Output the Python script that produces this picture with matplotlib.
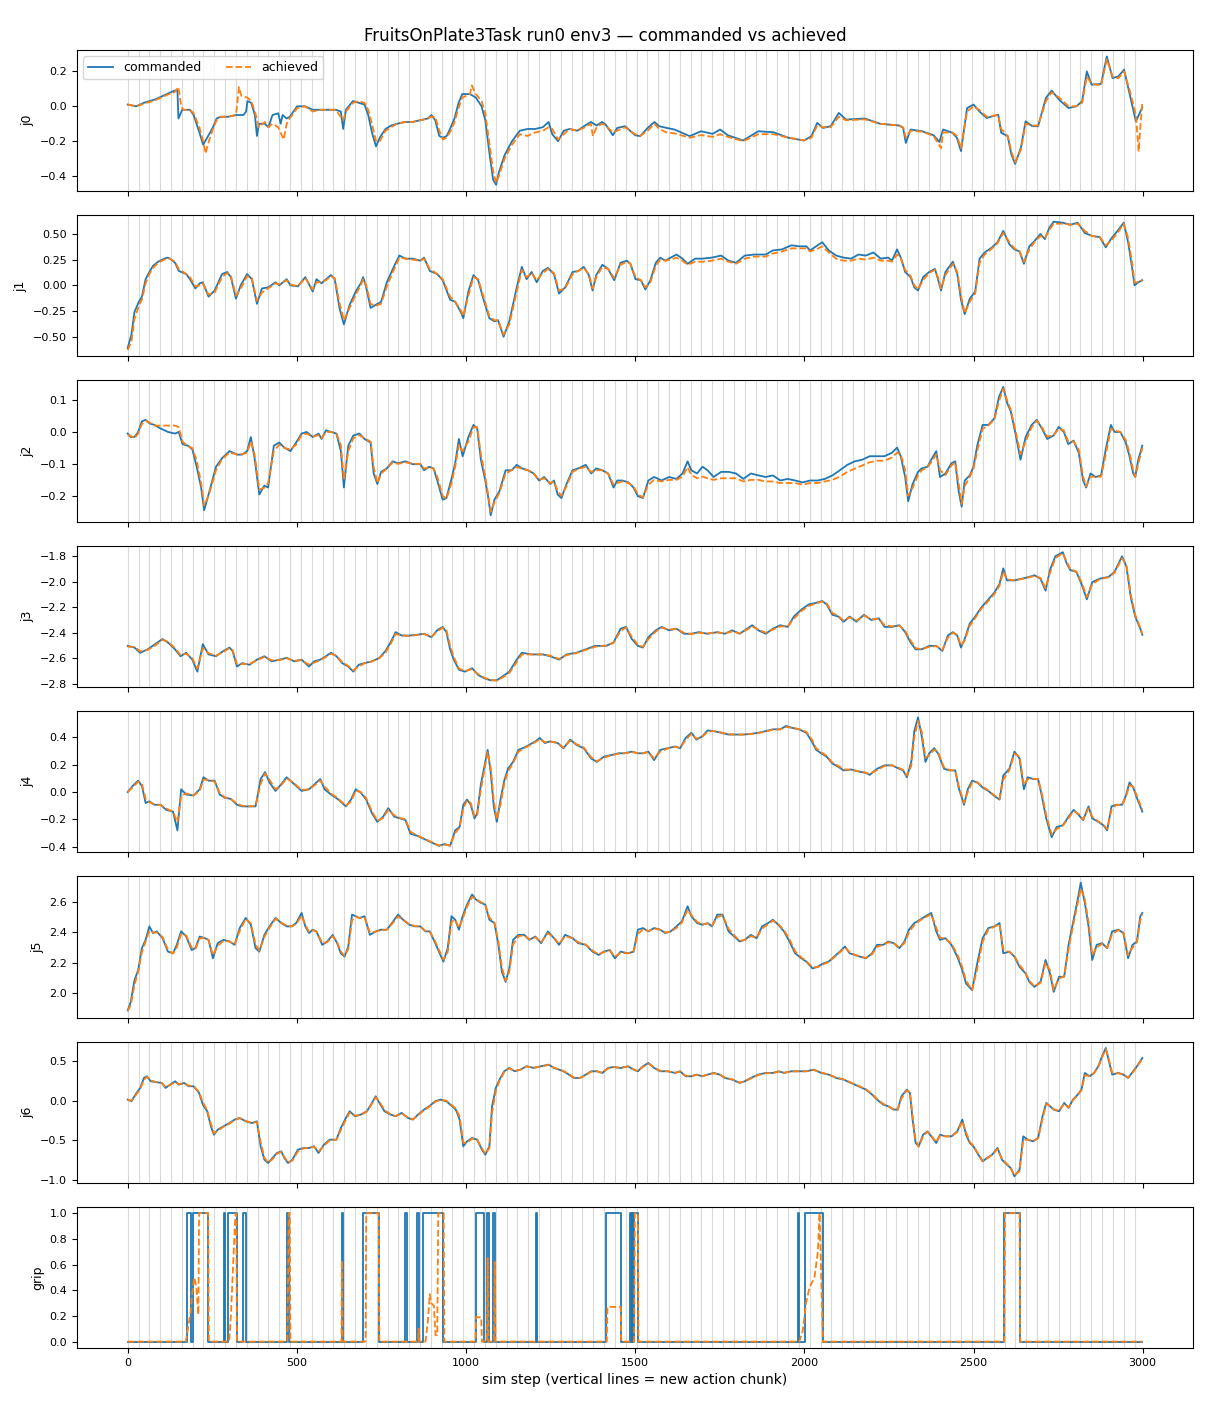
import matplotlib
matplotlib.use("Agg")
import matplotlib.pyplot as plt

TITLE = "FruitsOnPlate3Task run0 env3 \u2014 commanded vs achieved"
XLABEL = "sim step (vertical lines = new action chunk)"
JOINT_NAMES = ["j0", "j1", "j2", "j3", "j4", "j5", "j6"]

chunk_starts = [0, 32, 64, 96, 128, 160, 192, 224, 256, 288, 320, 352, 384, 416, 448, 480,
                512, 544, 576, 608, 640, 672, 704, 736, 768, 800, 832, 864, 896, 928, 960, 992,
                1024, 1056, 1088, 1120, 1152, 1184, 1216, 1248, 1280, 1312, 1344, 1376, 1408,
                1440, 1472, 1504, 1536, 1568, 1600, 1632, 1664, 1696, 1728, 1760, 1792, 1824,
                1856, 1888, 1920, 1952, 1984, 2016, 2048, 2080, 2112, 2144, 2176, 2208, 2240,
                2272, 2304, 2336, 2368, 2400, 2432, 2464, 2496, 2528, 2560, 2592, 2624, 2656,
                2688, 2720, 2752, 2784, 2816, 2848, 2880, 2912, 2944, 2976]

# (sim step, value) samples
j0_cmd = [(0,0.01),(25,0.0),(48,0.02),(82,0.04),(116,0.07),(138,0.09),(147,0.09),(150,-0.07),(161,-0.02),
          (184,-0.02),(195,-0.05),(212,-0.15),(223,-0.22),(235,-0.18),(252,-0.12),(263,-0.07),(274,-0.06),
          (297,-0.06),(320,-0.05),(342,-0.05),(350,-0.03),(354,0.03),(365,0.02),(376,-0.05),(382,-0.17),
          (388,-0.1),(405,-0.1),(416,-0.12),(428,-0.05),(445,-0.04),(452,-0.1),(458,-0.05),(470,-0.07),
          (479,-0.06),(490,-0.03),(501,0.0),(524,0.0),(547,-0.02),(569,-0.02),(592,-0.02),(615,-0.02),
          (630,-0.03),(637,-0.13),(645,-0.02),(666,0.03),(683,0.02),(700,0.01),(711,-0.05),(722,-0.15),
          (734,-0.23),(745,-0.18),(762,-0.13),(779,-0.11),(796,-0.1),(819,-0.09),(841,-0.09),(864,-0.08),
          (887,-0.07),(898,-0.05),(909,-0.08),(921,-0.17),(932,-0.18),(943,-0.17),(955,-0.12),(966,-0.07),
          (978,0.02),(989,0.07),(1012,0.07),(1029,0.05),(1046,0.0),(1057,-0.08),(1068,-0.25),(1080,-0.42),
          (1089,-0.45),(1097,-0.38),(1114,-0.28),(1136,-0.2),(1159,-0.14),(1182,-0.13),(1204,-0.13),
          (1227,-0.12),(1244,-0.09),(1255,-0.16),(1272,-0.2),(1289,-0.14),(1306,-0.13),(1329,-0.14),
          (1352,-0.11),(1369,-0.09),(1386,-0.11),(1402,-0.09),(1413,-0.105),(1434,-0.166),(1447,-0.124),
          (1470,-0.114),(1500,-0.166),(1515,-0.171),(1537,-0.124),(1557,-0.09),(1571,-0.114),(1593,-0.124),
          (1616,-0.133),(1661,-0.171),(1695,-0.143),(1729,-0.158),(1751,-0.133),(1774,-0.166),(1819,-0.196),
          (1864,-0.143),(1909,-0.149),(1954,-0.181),(1999,-0.196),(2021,-0.171),(2038,-0.095),(2055,-0.124),
          (2078,-0.114),(2102,-0.038),(2123,-0.076),(2179,-0.07),(2224,-0.1),(2280,-0.11),(2292,-0.124),
          (2300,-0.21),(2314,-0.133),(2348,-0.143),(2382,-0.166),(2399,-0.204),(2410,-0.133),(2438,-0.152),
          (2451,-0.181),(2463,-0.257),(2481,-0.01),(2500,0.01),(2517,-0.029),(2539,-0.067),(2573,-0.048),
          (2582,-0.152),(2601,-0.171),(2612,-0.276),(2623,-0.33),(2640,-0.238),(2654,-0.086),(2674,-0.114),
          (2691,-0.114),(2714,0.048),(2731,0.09),(2753,0.038),(2781,-0.01),(2804,0.0),(2821,0.029),
          (2835,0.2),(2849,0.124),(2877,0.128),(2894,0.286),(2911,0.162),(2928,0.171),(2945,0.21),
          (2962,0.067),(2980,-0.086),(2999,-0.006)]
j0_ach = [(0,0.01),(25,0.0),(48,0.015),(82,0.035),(116,0.065),(138,0.08),(150,0.11),(158,0.0),(165,-0.02),
          (184,-0.02),(195,-0.04),(212,-0.12),(223,-0.2),(230,-0.27),(240,-0.2),(252,-0.13),(263,-0.08),
          (274,-0.06),(297,-0.06),(320,-0.05),(329,0.11),(336,0.06),(354,0.05),(365,0.03),(376,-0.03),
          (388,-0.12),(405,-0.09),(416,-0.12),(428,-0.1),(445,-0.12),(461,-0.19),(470,-0.1),(479,-0.07),
          (490,-0.04),(501,-0.01),(524,0.0),(547,-0.03),(569,-0.02),(592,-0.02),(615,-0.02),(637,-0.08),
          (645,-0.03),(666,0.02),(683,0.03),(700,0.02),(711,-0.02),(722,-0.1),(734,-0.2),(745,-0.2),
          (762,-0.14),(779,-0.12),(796,-0.1),(819,-0.09),(841,-0.09),(864,-0.08),(887,-0.07),(898,-0.06),
          (909,-0.06),(921,-0.14),(932,-0.19),(943,-0.18),(955,-0.14),(966,-0.09),(978,-0.01),(989,0.05),
          (1012,0.07),(1017,0.12),(1029,0.07),(1046,0.03),(1057,-0.04),(1068,-0.2),(1080,-0.37),(1089,-0.44),
          (1097,-0.4),(1114,-0.3),(1136,-0.22),(1159,-0.16),(1182,-0.17),(1204,-0.15),(1227,-0.14),
          (1244,-0.12),(1255,-0.13),(1272,-0.19),(1289,-0.16),(1306,-0.13),(1329,-0.14),(1352,-0.12),
          (1369,-0.1),(1375,-0.17),(1386,-0.12),(1402,-0.1),(1413,-0.11),(1434,-0.15),(1447,-0.14),
          (1470,-0.12),(1500,-0.16),(1515,-0.17),(1537,-0.14),(1557,-0.1),(1571,-0.13),(1593,-0.15),
          (1616,-0.155),(1661,-0.18),(1695,-0.165),(1729,-0.175),(1751,-0.16),(1774,-0.175),(1819,-0.2),
          (1864,-0.16),(1909,-0.16),(1954,-0.18),(1999,-0.195),(2021,-0.18),(2038,-0.11),(2055,-0.12),
          (2078,-0.12),(2102,-0.06),(2123,-0.08),(2179,-0.075),(2224,-0.1),(2280,-0.11),(2292,-0.12),
          (2300,-0.18),(2314,-0.14),(2348,-0.145),(2382,-0.17),(2404,-0.24),(2410,-0.15),(2438,-0.15),
          (2451,-0.17),(2463,-0.24),(2481,-0.03),(2500,0.0),(2517,-0.02),(2539,-0.06),(2573,-0.05),
          (2582,-0.13),(2601,-0.17),(2612,-0.26),(2623,-0.32),(2640,-0.25),(2654,-0.1),(2674,-0.11),
          (2691,-0.11),(2714,0.03),(2731,0.08),(2753,0.05),(2781,0.0),(2804,0.0),(2821,0.02),(2835,0.17),
          (2849,0.13),(2877,0.12),(2894,0.27),(2911,0.17),(2928,0.16),(2945,0.2),(2962,0.09),(2980,-0.05),
          (2988,-0.26),(2999,0.03)]

j1_cmd = [(0,-0.61),(11,-0.48),(20,-0.26),(33,-0.16),(42,-0.11),(53,0.06),(64,0.13),(75,0.19),(90,0.23),
          (108,0.26),(118,0.27),(125,0.26),(140,0.22),(151,0.14),(173,0.11),(184,0.06),(200,-0.03),
          (213,0.02),(222,0.03),(239,-0.11),(257,-0.05),(279,0.11),(294,0.13),(305,0.08),(320,-0.13),
          (334,0.0),(353,0.11),(367,0.06),(382,-0.18),(397,-0.03),(415,-0.02),(437,0.03),(448,0.0),
          (470,0.06),(481,0.0),(503,-0.01),(525,0.08),(547,-0.06),(558,0.06),(573,0.02),(586,0.06),
          (601,0.10),(612,0.06),(626,-0.22),(639,-0.38),(656,-0.19),(674,-0.06),(689,0.02),(696,0.08),
          (705,-0.02),(718,-0.22),(733,-0.19),(749,-0.16),(766,0.03),(788,0.19),(803,0.29),(821,0.26),
          (843,0.26),(865,0.24),(876,0.27),(893,0.14),(915,0.11),(931,0.05),(953,-0.14),(968,-0.16),
          (986,-0.27),(992,-0.32),(1007,-0.06),(1022,0.10),(1036,0.05),(1051,-0.13),(1069,-0.32),
          (1084,-0.35),(1095,-0.34),(1111,-0.50),(1128,-0.35),(1150,-0.02),(1165,0.18),(1179,0.06),
          (1194,0.13),(1209,0.03),(1227,0.14),(1242,0.17),(1260,0.11),(1275,-0.08),(1293,-0.02),
          (1315,0.13),(1332,0.14),(1348,0.18),(1363,0.10),(1374,-0.05),(1385,0.10),(1403,0.20),
          (1420,0.16),(1438,0.05),(1457,0.22),(1475,0.24),(1486,0.21),(1501,0.06),(1517,0.05),
          (1530,-0.04),(1545,0.05),(1561,0.22),(1574,0.27),(1589,0.24),(1605,0.27),(1622,0.30),
          (1640,0.26),(1655,0.21),(1677,0.26),(1699,0.26),(1727,0.27),(1754,0.29),(1776,0.24),
          (1798,0.22),(1824,0.29),(1853,0.30),(1886,0.30),(1907,0.34),(1934,0.35),(1962,0.39),
          (1984,0.38),(2006,0.38),(2017,0.34),(2035,0.38),(2053,0.42),(2072,0.34),(2094,0.29),
          (2116,0.27),(2138,0.26),(2160,0.30),(2182,0.29),(2204,0.32),(2226,0.26),(2248,0.27),
          (2259,0.24),(2274,0.35),(2285,0.27),(2298,0.13),(2314,0.08),(2325,-0.02),(2336,-0.05),
          (2351,0.08),(2369,0.13),(2386,0.16),(2395,0.06),(2404,-0.05),(2417,0.13),(2439,0.23),
          (2452,0.11),(2463,-0.14),(2474,-0.28),(2489,-0.13),(2505,-0.06),(2518,0.26),(2533,0.32),
          (2555,0.37),(2571,0.42),(2588,0.53),(2606,0.40),(2621,0.35),(2636,0.33),(2649,0.21),
          (2665,0.38),(2680,0.43),(2698,0.50),(2711,0.45),(2724,0.56),(2737,0.62),(2764,0.61),
          (2786,0.59),(2808,0.61),(2829,0.51),(2851,0.48),(2873,0.47),(2891,0.37),(2906,0.45),
          (2928,0.54),(2944,0.61),(2957,0.42),(2968,0.19),(2976,0.0),(2987,0.03),(2999,0.05)]
j1_ach = [(0,-0.63),(11,-0.55),(20,-0.33),(33,-0.2),(42,-0.14),(53,0.02),(64,0.11),(75,0.17),(90,0.22),
          (108,0.25),(118,0.26),(125,0.26),(140,0.23),(151,0.16),(173,0.11),(184,0.08),(200,-0.01),
          (213,0.0),(222,0.02),(239,-0.09),(257,-0.07),(279,0.08),(294,0.12),(305,0.09),(320,-0.1),
          (334,-0.03),(353,0.09),(367,0.07),(382,-0.15),(397,-0.07),(415,-0.03),(437,0.02),(448,0.01),
          (470,0.05),(481,0.01),(503,-0.01),(525,0.07),(547,-0.04),(558,0.03),(573,0.03),(586,0.05),
          (601,0.09),(612,0.07),(626,-0.17),(639,-0.34),(656,-0.22),(674,-0.09),(689,0.0),(696,0.06),
          (705,0.0),(718,-0.18),(733,-0.2),(749,-0.18),(766,-0.01),(788,0.16),(803,0.27),(821,0.26),
          (843,0.25),(865,0.24),(876,0.26),(893,0.16),(915,0.11),(931,0.06),(953,-0.11),(968,-0.16),
          (986,-0.25),(992,-0.3),(1007,-0.1),(1022,0.08),(1036,0.06),(1051,-0.1),(1069,-0.3),
          (1084,-0.34),(1095,-0.34),(1111,-0.48),(1128,-0.38),(1150,-0.06),(1165,0.15),(1179,0.08),
          (1194,0.12),(1209,0.05),(1227,0.12),(1242,0.16),(1260,0.12),(1275,-0.05),(1293,-0.03),
          (1315,0.11),(1332,0.14),(1348,0.17),(1363,0.11),(1374,-0.03),(1385,0.08),(1403,0.18),
          (1420,0.16),(1438,0.07),(1457,0.2),(1475,0.23),(1486,0.21),(1501,0.08),(1517,0.05),
          (1530,-0.02),(1545,0.03),(1561,0.19),(1574,0.25),(1589,0.24),(1605,0.25),(1622,0.27),
          (1640,0.24),(1655,0.2),(1677,0.23),(1699,0.23),(1727,0.24),(1754,0.26),(1776,0.23),
          (1798,0.21),(1824,0.26),(1853,0.28),(1886,0.28),(1907,0.31),(1934,0.33),(1962,0.36),
          (1984,0.36),(2006,0.36),(2017,0.33),(2035,0.35),(2053,0.38),(2072,0.32),(2094,0.26),
          (2116,0.24),(2138,0.24),(2160,0.26),(2182,0.25),(2204,0.27),(2226,0.24),(2248,0.24),
          (2259,0.23),(2274,0.3),(2285,0.27),(2298,0.15),(2314,0.09),(2325,0.0),(2336,-0.04),
          (2351,0.05),(2369,0.12),(2386,0.15),(2395,0.08),(2404,-0.03),(2417,0.1),(2439,0.21),
          (2452,0.13),(2463,-0.1),(2474,-0.27),(2489,-0.16),(2505,-0.08),(2518,0.22),(2533,0.3),
          (2555,0.36),(2571,0.41),(2588,0.51),(2606,0.42),(2621,0.36),(2636,0.33),(2649,0.23),
          (2665,0.35),(2680,0.42),(2698,0.48),(2711,0.46),(2724,0.54),(2737,0.6),(2764,0.6),
          (2786,0.59),(2808,0.6),(2829,0.53),(2851,0.48),(2873,0.47),(2891,0.39),(2906,0.43),
          (2928,0.52),(2944,0.6),(2957,0.46),(2968,0.24),(2976,0.03),(2987,0.03),(2999,0.05)]

j2_cmd = [(0,-0.005),(9,-0.016),(20,-0.016),(31,0.0),(42,0.033),(53,0.038),(64,0.027),(79,0.022),
          (97,0.011),(119,0.0),(140,-0.005),(151,0.0),(162,-0.038),(178,-0.043),(191,-0.054),(204,-0.109),
          (217,-0.174),(226,-0.245),(239,-0.196),(261,-0.109),(279,-0.082),(301,-0.06),(323,-0.071),
          (338,-0.071),(353,-0.06),(364,-0.016),(375,-0.082),(389,-0.196),(404,-0.168),(415,-0.174),
          (432,-0.043),(448,-0.033),(463,-0.049),(481,-0.06),(498,-0.033),(514,-0.005),(529,0.0),
          (547,-0.016),(564,-0.005),(573,-0.022),(586,0.005),(601,0.0),(617,-0.005),(630,-0.06),
          (639,-0.174),(652,-0.043),(667,-0.011),(685,-0.005),(700,-0.022),(718,-0.033),(727,-0.13),
          (738,-0.163),(749,-0.125),(766,-0.114),(783,-0.092),(799,-0.098),(821,-0.092),(843,-0.101),
          (865,-0.101),(876,-0.12),(891,-0.109),(904,-0.114),(915,-0.152),(931,-0.212),(942,-0.207),
          (957,-0.147),(968,-0.098),(979,-0.022),(990,-0.076),(1007,-0.016),(1022,0.022),(1033,0.011),
          (1044,-0.087),(1057,-0.152),(1066,-0.207),(1073,-0.261),(1084,-0.212),(1099,-0.185),
          (1117,-0.12),(1135,-0.12),(1150,-0.103),(1165,-0.114),(1183,-0.12),(1200,-0.13),(1216,-0.152),
          (1231,-0.141),(1249,-0.163),(1260,-0.152),(1271,-0.196),(1282,-0.207),(1297,-0.163),
          (1315,-0.12),(1332,-0.114),(1354,-0.103),(1370,-0.13),(1385,-0.114),(1403,-0.12),(1420,-0.13),
          (1436,-0.174),(1447,-0.152),(1462,-0.152),(1480,-0.158),(1495,-0.174),(1508,-0.201),
          (1523,-0.207),(1539,-0.152),(1556,-0.141),(1578,-0.152),(1600,-0.141),(1622,-0.147),
          (1640,-0.13),(1655,-0.092),(1666,-0.12),(1683,-0.13),(1699,-0.109),(1714,-0.12),(1732,-0.141),
          (1754,-0.125),(1776,-0.125),(1798,-0.13),(1820,-0.147),(1842,-0.13),(1864,-0.136),
          (1886,-0.141),(1907,-0.136),(1929,-0.152),(1951,-0.147),(1973,-0.152),(1995,-0.158),
          (2017,-0.152),(2039,-0.152),(2061,-0.147),(2083,-0.136),(2105,-0.12),(2127,-0.103),
          (2149,-0.092),(2171,-0.087),(2193,-0.076),(2215,-0.076),(2237,-0.076),(2259,-0.065),
          (2274,-0.049),(2285,-0.076),(2298,-0.141),(2307,-0.217),(2320,-0.163),(2336,-0.125),
          (2347,-0.114),(2364,-0.109),(2375,-0.087),(2390,-0.06),(2401,-0.141),(2417,-0.13),
          (2435,-0.098),(2446,-0.092),(2456,-0.185),(2465,-0.234),(2474,-0.152),(2489,-0.136),
          (2500,-0.109),(2511,-0.043),(2527,0.022),(2544,0.022),(2562,0.043),(2575,0.109),(2588,0.141),
          (2599,0.092),(2610,0.065),(2623,0.0),(2639,-0.087),(2654,-0.016),(2672,0.022),(2687,0.038),
          (2702,0.011),(2718,-0.022),(2737,-0.011),(2752,0.016),(2767,0.0),(2780,-0.038),(2796,-0.027),
          (2811,-0.065),(2824,-0.152),(2833,-0.174),(2846,-0.13),(2861,-0.141),(2877,-0.136),
          (2891,-0.054),(2906,0.022),(2917,0.0),(2934,0.0),(2950,-0.033),(2961,-0.076),(2972,-0.13),
          (2978,-0.141),(2987,-0.087),(2999,-0.043)]
j2_ach = [(0,-0.01),(9,-0.012),(20,-0.02),(31,-0.005),(42,0.025),(53,0.035),(64,0.03),(79,0.02),
          (97,0.02),(119,0.02),(140,0.02),(151,0.015),(162,-0.03),(178,-0.045),(191,-0.05),(204,-0.09),
          (217,-0.16),(226,-0.23),(239,-0.2),(261,-0.12),(279,-0.085),(301,-0.065),(323,-0.07),
          (338,-0.07),(353,-0.065),(364,-0.03),(375,-0.07),(389,-0.18),(404,-0.175),(415,-0.16),
          (432,-0.06),(448,-0.04),(463,-0.05),(481,-0.055),(498,-0.04),(514,-0.01),(529,-0.005),
          (547,-0.015),(564,-0.01),(573,-0.02),(586,0.0),(601,0.0),(617,-0.005),(630,-0.04),
          (639,-0.15),(652,-0.06),(667,-0.02),(685,-0.01),(700,-0.02),(718,-0.03),(727,-0.11),
          (738,-0.16),(749,-0.13),(766,-0.115),(783,-0.095),(799,-0.1),(821,-0.095),(843,-0.1),
          (865,-0.1),(876,-0.115),(891,-0.11),(904,-0.115),(915,-0.14),(931,-0.2),(942,-0.21),
          (957,-0.16),(968,-0.11),(979,-0.04),(990,-0.06),(1007,-0.03),(1022,0.015),(1033,0.015),
          (1044,-0.07),(1057,-0.14),(1066,-0.2),(1073,-0.25),(1084,-0.22),(1099,-0.19),
          (1117,-0.13),(1135,-0.12),(1150,-0.11),(1165,-0.115),(1183,-0.12),(1200,-0.13),(1216,-0.15),
          (1231,-0.145),(1249,-0.16),(1260,-0.155),(1271,-0.185),(1282,-0.2),(1297,-0.17),
          (1315,-0.125),(1332,-0.115),(1354,-0.11),(1370,-0.125),(1385,-0.12),(1403,-0.12),(1420,-0.13),
          (1436,-0.165),(1447,-0.16),(1462,-0.155),(1480,-0.16),(1495,-0.17),(1508,-0.195),
          (1523,-0.205),(1539,-0.165),(1556,-0.15),(1578,-0.155),(1600,-0.15),(1622,-0.15),
          (1640,-0.14),(1655,-0.11),(1666,-0.135),(1683,-0.145),(1699,-0.14),(1714,-0.145),(1732,-0.15),
          (1754,-0.145),(1776,-0.145),(1798,-0.145),(1820,-0.155),(1842,-0.15),(1864,-0.15),
          (1886,-0.155),(1907,-0.155),(1929,-0.16),(1951,-0.16),(1973,-0.16),(1995,-0.165),
          (2017,-0.16),(2039,-0.16),(2061,-0.155),(2083,-0.15),(2105,-0.14),(2127,-0.125),
          (2149,-0.115),(2171,-0.105),(2193,-0.095),(2215,-0.09),(2237,-0.09),(2259,-0.08),
          (2274,-0.065),(2285,-0.07),(2298,-0.12),(2307,-0.2),(2320,-0.175),(2336,-0.135),
          (2347,-0.12),(2364,-0.11),(2375,-0.095),(2390,-0.07),(2401,-0.12),(2417,-0.135),
          (2435,-0.105),(2446,-0.095),(2456,-0.16),(2465,-0.225),(2474,-0.17),(2489,-0.14),
          (2500,-0.115),(2511,-0.06),(2527,0.01),(2544,0.02),(2562,0.04),(2575,0.095),(2588,0.135),
          (2599,0.1),(2610,0.07),(2623,0.01),(2639,-0.07),(2654,-0.03),(2672,0.015),(2687,0.035),
          (2702,0.015),(2718,-0.015),(2737,-0.01),(2752,0.01),(2767,0.005),(2780,-0.03),(2796,-0.03),
          (2811,-0.055),(2824,-0.14),(2833,-0.17),(2846,-0.14),(2861,-0.14),(2877,-0.14),
          (2891,-0.07),(2906,0.01),(2917,0.005),(2934,0.0),(2950,-0.025),(2961,-0.065),(2972,-0.12),
          (2978,-0.14),(2987,-0.1),(2999,-0.05)]

j3_cmd = [(0,-2.503),(20,-2.516),(37,-2.557),(59,-2.53),(81,-2.489),(103,-2.449),(119,-2.476),(140,-2.53),
          (156,-2.584),(173,-2.557),(191,-2.611),(206,-2.705),(222,-2.489),(239,-2.57),(261,-2.584),
          (283,-2.543),(301,-2.516),(310,-2.543),(323,-2.665),(338,-2.638),(360,-2.651),(382,-2.611),
          (404,-2.584),(426,-2.624),(448,-2.611),(470,-2.597),(492,-2.624),(514,-2.611),(536,-2.665),
          (551,-2.624),(569,-2.611),(586,-2.584),(601,-2.557),(617,-2.584),(634,-2.638),(652,-2.665),
          (667,-2.705),(683,-2.651),(700,-2.638),(722,-2.624),(744,-2.597),(762,-2.543),(777,-2.476),
          (792,-2.395),(810,-2.422),(832,-2.422),(854,-2.416),(876,-2.408),(898,-2.435),(915,-2.38),
          (931,-2.354),(942,-2.395),(953,-2.53),(964,-2.611),(979,-2.69),(997,-2.705),(1018,-2.678),
          (1036,-2.732),(1056,-2.759),(1073,-2.773),(1091,-2.773),(1106,-2.746),(1128,-2.705),
          (1150,-2.611),(1165,-2.557),(1194,-2.57),(1227,-2.57),(1249,-2.584),(1275,-2.611),
          (1297,-2.57),(1326,-2.557),(1354,-2.53),(1381,-2.503),(1414,-2.503),(1436,-2.476),
          (1457,-2.368),(1473,-2.354),(1490,-2.449),(1508,-2.503),(1523,-2.516),(1539,-2.435),
          (1561,-2.381),(1578,-2.354),(1600,-2.381),(1622,-2.368),(1644,-2.408),(1666,-2.408),
          (1688,-2.395),(1714,-2.408),(1743,-2.395),(1765,-2.408),(1787,-2.381),(1809,-2.408),
          (1831,-2.368),(1846,-2.341),(1864,-2.381),(1886,-2.408),(1907,-2.368),(1929,-2.341),
          (1951,-2.354),(1969,-2.273),(1991,-2.219),(2013,-2.178),(2035,-2.165),(2053,-2.151),
          (2066,-2.178),(2083,-2.259),(2101,-2.273),(2116,-2.314),(2134,-2.273),(2154,-2.314),
          (2176,-2.259),(2198,-2.3),(2220,-2.286),(2237,-2.354),(2259,-2.354),(2281,-2.341),
          (2298,-2.395),(2314,-2.476),(2329,-2.53),(2347,-2.53),(2369,-2.503),(2390,-2.503),
          (2408,-2.543),(2424,-2.422),(2439,-2.395),(2452,-2.422),(2463,-2.516),(2474,-2.449),
          (2489,-2.327),(2505,-2.273),(2522,-2.205),(2544,-2.138),(2562,-2.084),(2577,-2.016),
          (2588,-1.895),(2599,-1.989),(2621,-1.989),(2643,-1.976),(2665,-1.962),(2680,-1.949),
          (2698,-1.976),(2713,-2.07),(2726,-1.908),(2742,-1.8),(2764,-1.768),(2775,-1.854),
          (2786,-1.908),(2804,-1.922),(2819,-2.016),(2835,-2.138),(2851,-2.003),(2873,-1.976),
          (2899,-1.962),(2917,-1.922),(2939,-1.8),(2952,-1.881),(2965,-2.124),(2978,-2.273),
          (2993,-2.368),(2999,-2.416)]
j3_ach = [(0,-2.51),(20,-2.51),(37,-2.545),(59,-2.535),(81,-2.5),(103,-2.455),(119,-2.47),(140,-2.52),
          (156,-2.575),(173,-2.565),(191,-2.6),(206,-2.68),(222,-2.52),(239,-2.56),(261,-2.58),
          (283,-2.55),(301,-2.52),(310,-2.535),(323,-2.645),(338,-2.645),(360,-2.645),(382,-2.615),
          (404,-2.59),(426,-2.615),(448,-2.615),(470,-2.6),(492,-2.62),(514,-2.615),(536,-2.65),
          (551,-2.635),(569,-2.615),(586,-2.59),(601,-2.565),(617,-2.58),(634,-2.63),(652,-2.66),
          (667,-2.695),(683,-2.665),(700,-2.64),(722,-2.625),(744,-2.6),(762,-2.555),(777,-2.49),
          (792,-2.41),(810,-2.42),(832,-2.425),(854,-2.418),(876,-2.41),(898,-2.43),(915,-2.39),
          (931,-2.36),(942,-2.38),(953,-2.5),(964,-2.59),(979,-2.68),(997,-2.7),(1018,-2.685),
          (1036,-2.725),(1056,-2.755),(1073,-2.77),(1091,-2.775),(1106,-2.755),(1128,-2.715),
          (1150,-2.63),(1165,-2.57),(1194,-2.57),(1227,-2.57),(1249,-2.58),(1275,-2.605),
          (1297,-2.575),(1326,-2.56),(1354,-2.535),(1381,-2.51),(1414,-2.5),(1436,-2.48),
          (1457,-2.385),(1473,-2.36),(1490,-2.43),(1508,-2.495),(1523,-2.51),(1539,-2.45),
          (1561,-2.39),(1578,-2.36),(1600,-2.375),(1622,-2.37),(1644,-2.4),(1666,-2.41),
          (1688,-2.4),(1714,-2.405),(1743,-2.398),(1765,-2.405),(1787,-2.39),(1809,-2.405),
          (1831,-2.375),(1846,-2.35),(1864,-2.375),(1886,-2.4),(1907,-2.375),(1929,-2.35),
          (1951,-2.35),(1969,-2.29),(1991,-2.23),(2013,-2.19),(2035,-2.17),(2053,-2.155),
          (2066,-2.17),(2083,-2.245),(2101,-2.27),(2116,-2.305),(2134,-2.28),(2154,-2.305),
          (2176,-2.265),(2198,-2.295),(2220,-2.29),(2237,-2.34),(2259,-2.35),(2281,-2.345),
          (2298,-2.385),(2314,-2.46),(2329,-2.52),(2347,-2.53),(2369,-2.51),(2390,-2.505),
          (2408,-2.535),(2424,-2.44),(2439,-2.4),(2452,-2.415),(2463,-2.5),(2474,-2.46),
          (2489,-2.345),(2505,-2.285),(2522,-2.215),(2544,-2.15),(2562,-2.095),(2577,-2.03),
          (2588,-1.92),(2599,-1.98),(2621,-1.99),(2643,-1.978),(2665,-1.965),(2680,-1.955),
          (2698,-1.97),(2713,-2.05),(2726,-1.93),(2742,-1.815),(2764,-1.775),(2775,-1.84),
          (2786,-1.9),(2804,-1.92),(2819,-2.0),(2835,-2.12),(2851,-2.02),(2873,-1.98),
          (2899,-1.965),(2917,-1.93),(2939,-1.815),(2952,-1.87),(2965,-2.1),(2978,-2.26),
          (2993,-2.36),(2999,-2.41)]

j4_cmd = [(0,0.0),(15,0.045),(31,0.083),(42,0.045),(53,-0.08),(64,-0.068),(79,-0.093),(97,-0.093),
          (114,-0.13),(134,-0.143),(147,-0.28),(158,0.02),(173,-0.018),(195,-0.025),(213,0.02),(224,0.108),
          (239,0.083),(257,0.083),(272,-0.018),(288,-0.043),(305,-0.05),(323,-0.093),(338,-0.105),
          (360,-0.105),(378,-0.105),(393,0.095),(406,0.145),(419,0.07),(437,0.008),(454,0.058),
          (470,0.108),(492,0.058),(514,0.008),(536,0.02),(553,0.058),(569,0.095),(582,0.02),(601,-0.018),
          (623,-0.055),(645,-0.105),(660,-0.055),(674,0.02),(689,-0.005),(705,-0.055),(722,-0.155),
          (738,-0.218),(755,-0.18),(770,-0.118),(788,-0.18),(806,-0.193),(821,-0.205),(836,-0.305),
          (854,-0.318),(876,-0.343),(898,-0.368),(920,-0.393),(937,-0.38),(953,-0.393),(968,-0.28),
          (981,-0.255),(992,-0.093),(1003,-0.055),(1014,-0.093),(1025,-0.193),(1033,-0.155),(1044,0.058),
          (1053,0.17),(1064,0.308),(1073,0.145),(1082,-0.105),(1091,-0.218),(1102,-0.055),(1113,0.083),
          (1124,0.17),(1139,0.22),(1155,0.308),(1172,0.325),(1187,0.345),(1205,0.37),(1218,0.395),
          (1233,0.358),(1249,0.37),(1271,0.358),(1288,0.32),(1308,0.383),(1326,0.345),(1348,0.32),
          (1370,0.245),(1387,0.22),(1407,0.258),(1429,0.27),(1451,0.283),(1468,0.283),(1490,0.295),
          (1508,0.283),(1523,0.283),(1539,0.295),(1556,0.233),(1574,0.308),(1596,0.32),(1618,0.333),
          (1633,0.32),(1649,0.395),(1666,0.433),(1681,0.383),(1699,0.408),(1714,0.45),(1732,0.445),
          (1754,0.433),(1776,0.42),(1798,0.42),(1820,0.42),(1842,0.425),(1864,0.433),(1886,0.445),
          (1907,0.458),(1929,0.458),(1946,0.483),(1962,0.47),(1984,0.458),(2006,0.433),(2022,0.37),
          (2035,0.308),(2050,0.283),(2066,0.258),(2083,0.208),(2101,0.183),(2116,0.158),(2138,0.165),
          (2160,0.15),(2182,0.14),(2193,0.125),(2215,0.17),(2237,0.195),(2259,0.195),(2276,0.175),
          (2292,0.158),(2303,0.108),(2316,0.22),(2325,0.445),(2336,0.545),(2347,0.408),(2358,0.22),
          (2369,0.283),(2384,0.32),(2395,0.283),(2413,0.17),(2430,0.158),(2446,0.158),(2456,0.033),
          (2472,-0.093),(2483,0.02),(2496,0.083),(2511,0.07),(2527,0.033),(2544,0.008),(2562,-0.03),
          (2577,-0.055),(2588,0.12),(2606,0.17),(2621,0.295),(2636,0.245),(2649,0.02),(2660,0.108),
          (2676,0.095),(2691,0.095),(2702,-0.03),(2715,-0.193),(2731,-0.33),(2746,-0.255),(2764,-0.243),
          (2781,-0.18),(2796,-0.13),(2811,-0.168),(2824,-0.205),(2840,-0.105),(2851,-0.193),
          (2869,-0.218),(2884,-0.243),(2895,-0.28),(2908,-0.105),(2921,-0.093),(2939,-0.093),
          (2950,-0.03),(2961,0.07),(2972,0.033),(2983,-0.043),(2999,-0.143)]
j4_ach = [(0,0.0),(15,0.035),(31,0.075),(42,0.06),(53,-0.05),(64,-0.075),(79,-0.09),(97,-0.095),
          (114,-0.12),(134,-0.145),(147,-0.22),(158,-0.03),(173,-0.01),(195,-0.025),(213,0.01),(224,0.09),
          (239,0.09),(257,0.075),(272,-0.005),(288,-0.04),(305,-0.05),(323,-0.085),(338,-0.1),
          (360,-0.105),(378,-0.1),(393,0.06),(406,0.135),(419,0.09),(437,0.02),(454,0.05),
          (470,0.1),(492,0.065),(514,0.015),(536,0.02),(553,0.05),(569,0.085),(582,0.04),(601,-0.01),
          (623,-0.05),(645,-0.1),(660,-0.07),(674,0.01),(689,0.0),(705,-0.045),(722,-0.14),
          (738,-0.21),(755,-0.19),(770,-0.13),(788,-0.17),(806,-0.19),(821,-0.2),(836,-0.29),
          (854,-0.315),(876,-0.34),(898,-0.365),(920,-0.39),(937,-0.385),(953,-0.39),(968,-0.3),
          (981,-0.26),(992,-0.12),(1003,-0.06),(1014,-0.08),(1025,-0.18),(1033,-0.17),(1044,0.02),
          (1053,0.14),(1064,0.29),(1073,0.18),(1082,-0.06),(1091,-0.2),(1102,-0.09),(1113,0.06),
          (1124,0.15),(1139,0.21),(1155,0.295),(1172,0.32),(1187,0.34),(1205,0.365),(1218,0.385),
          (1233,0.365),(1249,0.368),(1271,0.36),(1288,0.325),(1308,0.375),(1326,0.35),(1348,0.325),
          (1370,0.255),(1387,0.225),(1407,0.25),(1429,0.268),(1451,0.28),(1468,0.283),(1490,0.292),
          (1508,0.285),(1523,0.283),(1539,0.292),(1556,0.245),(1574,0.295),(1596,0.318),(1618,0.33),
          (1633,0.322),(1649,0.38),(1666,0.425),(1681,0.39),(1699,0.405),(1714,0.44),(1732,0.445),
          (1754,0.435),(1776,0.422),(1798,0.42),(1820,0.42),(1842,0.424),(1864,0.43),(1886,0.442),
          (1907,0.455),(1929,0.458),(1946,0.475),(1962,0.47),(1984,0.46),(2006,0.44),(2022,0.385),
          (2035,0.32),(2050,0.29),(2066,0.265),(2083,0.215),(2101,0.19),(2116,0.165),(2138,0.163),
          (2160,0.152),(2182,0.142),(2193,0.13),(2215,0.16),(2237,0.19),(2259,0.195),(2276,0.18),
          (2292,0.162),(2303,0.12),(2316,0.19),(2325,0.4),(2336,0.52),(2347,0.44),(2358,0.25),
          (2369,0.27),(2384,0.31),(2395,0.29),(2413,0.18),(2430,0.16),(2446,0.158),(2456,0.05),
          (2472,-0.08),(2483,0.0),(2496,0.07),(2511,0.072),(2527,0.04),(2544,0.012),(2562,-0.025),
          (2577,-0.05),(2588,0.09),(2606,0.16),(2621,0.28),(2636,0.26),(2649,0.05),(2660,0.095),
          (2676,0.097),(2691,0.095),(2702,-0.01),(2715,-0.17),(2731,-0.31),(2746,-0.27),(2764,-0.245),
          (2781,-0.19),(2796,-0.14),(2811,-0.16),(2824,-0.2),(2840,-0.12),(2851,-0.18),
          (2869,-0.215),(2884,-0.24),(2895,-0.27),(2908,-0.13),(2921,-0.095),(2939,-0.093),
          (2950,-0.04),(2961,0.05),(2972,0.04),(2983,-0.03),(2999,-0.13)]

j5_cmd = [(0,1.884),(9,1.94),(20,2.084),(31,2.151),(42,2.296),(53,2.351),(64,2.44),(75,2.396),(86,2.407),
          (103,2.362),(119,2.273),(134,2.262),(145,2.318),(158,2.407),(173,2.373),(189,2.284),(200,2.296),
          (213,2.373),(228,2.362),(239,2.351),(252,2.229),(266,2.329),(283,2.351),(301,2.34),(316,2.318),
          (331,2.429),(349,2.496),(364,2.451),(378,2.296),(389,2.273),(404,2.384),(419,2.44),(437,2.496),
          (454,2.462),(470,2.44),(485,2.44),(498,2.462),(514,2.529),(525,2.44),(536,2.396),(547,2.418),
          (558,2.407),(575,2.318),(590,2.34),(606,2.384),(619,2.329),(630,2.262),(641,2.24),(652,2.307),
          (663,2.518),(674,2.507),(685,2.496),(700,2.507),(716,2.384),(733,2.407),(749,2.418),(766,2.418),
          (781,2.462),(799,2.518),(814,2.484),(832,2.451),(849,2.44),(865,2.44),(880,2.407),(893,2.407),
          (909,2.329),(920,2.273),(933,2.207),(946,2.296),(957,2.507),(968,2.484),(979,2.418),(990,2.507),
          (1003,2.584),(1018,2.651),(1029,2.618),(1044,2.596),(1057,2.584),(1069,2.484),(1084,2.462),
          (1095,2.329),(1106,2.14),(1117,2.073),(1128,2.162),(1139,2.351),(1155,2.384),(1172,2.384),
          (1187,2.351),(1205,2.373),(1222,2.329),(1242,2.407),(1260,2.362),(1275,2.318),(1293,2.384),
          (1315,2.362),(1332,2.329),(1354,2.318),(1374,2.273),(1392,2.251),(1407,2.273),(1425,2.284),
          (1440,2.229),(1457,2.273),(1479,2.262),(1495,2.273),(1508,2.418),(1523,2.429),(1539,2.407),
          (1556,2.429),(1574,2.418),(1589,2.396),(1605,2.407),(1622,2.44),(1638,2.473),(1655,2.573),
          (1666,2.507),(1683,2.462),(1699,2.451),(1714,2.462),(1727,2.44),(1743,2.518),(1758,2.518),
          (1776,2.407),(1793,2.373),(1809,2.34),(1824,2.351),(1842,2.384),(1859,2.362),(1875,2.44),
          (1893,2.462),(1907,2.484),(1923,2.451),(1940,2.407),(1956,2.34),(1973,2.262),(1991,2.229),
          (2006,2.207),(2024,2.162),(2039,2.173),(2057,2.196),(2072,2.207),(2088,2.24),(2105,2.273),
          (2120,2.307),(2134,2.262),(2149,2.251),(2164,2.24),(2182,2.229),(2200,2.262),(2215,2.318),
          (2233,2.318),(2248,2.34),(2264,2.329),(2281,2.296),(2296,2.34),(2309,2.418),(2325,2.462),
          (2342,2.484),(2358,2.507),(2375,2.529),(2390,2.407),(2401,2.351),(2417,2.362),(2435,2.318),
          (2452,2.24),(2467,2.151),(2478,2.062),(2496,2.018),(2511,2.196),(2527,2.362),(2544,2.429),
          (2562,2.44),(2577,2.462),(2588,2.262),(2606,2.273),(2621,2.24),(2636,2.173),(2654,2.129),
          (2665,2.073),(2680,2.04),(2698,2.073),(2713,2.218),(2726,2.129),(2737,2.007),(2753,2.107),
          (2768,2.107),(2781,2.318),(2794,2.462),(2808,2.618),(2817,2.729),(2829,2.596),(2840,2.44),
          (2851,2.218),(2864,2.318),(2880,2.329),(2895,2.296),(2910,2.407),(2928,2.418),(2943,2.396),
          (2957,2.229),(2970,2.318),(2983,2.34),(2993,2.507),(2999,2.529)]
j5_ach = [(0,1.88),(9,1.92),(20,2.05),(31,2.14),(42,2.27),(53,2.34),(64,2.41),(75,2.4),(86,2.4),
          (103,2.37),(119,2.285),(134,2.26),(145,2.3),(158,2.39),(173,2.38),(189,2.3),(200,2.29),
          (213,2.36),(228,2.365),(239,2.35),(252,2.25),(266,2.31),(283,2.345),(301,2.34),(316,2.32),
          (331,2.41),(349,2.49),(364,2.46),(378,2.32),(389,2.28),(404,2.37),(419,2.43),(437,2.49),
          (454,2.465),(470,2.445),(485,2.44),(498,2.455),(514,2.51),(525,2.45),(536,2.405),(547,2.415),
          (558,2.405),(575,2.33),(590,2.335),(606,2.375),(619,2.335),(630,2.275),(641,2.245),(652,2.29),
          (663,2.48),(674,2.505),(685,2.495),(700,2.5),(716,2.4),(733,2.405),(749,2.415),(766,2.418),
          (781,2.455),(799,2.505),(814,2.485),(832,2.455),(849,2.442),(865,2.44),(880,2.41),(893,2.405),
          (909,2.34),(920,2.285),(933,2.22),(946,2.27),(957,2.47),(968,2.485),(979,2.43),(990,2.49),
          (1003,2.57),(1018,2.635),(1029,2.62),(1044,2.6),(1057,2.585),(1069,2.5),(1084,2.465),
          (1095,2.35),(1106,2.17),(1117,2.08),(1128,2.14),(1139,2.32),(1155,2.375),(1172,2.382),
          (1187,2.355),(1205,2.368),(1222,2.335),(1242,2.395),(1260,2.365),(1275,2.325),(1293,2.375),
          (1315,2.362),(1332,2.335),(1354,2.32),(1374,2.28),(1392,2.255),(1407,2.27),(1425,2.282),
          (1440,2.24),(1457,2.265),(1479,2.262),(1495,2.27),(1508,2.39),(1523,2.42),(1539,2.41),
          (1556,2.425),(1574,2.418),(1589,2.4),(1605,2.405),(1622,2.43),(1638,2.465),(1655,2.55),
          (1666,2.515),(1683,2.47),(1699,2.452),(1714,2.46),(1727,2.445),(1743,2.5),(1758,2.515),
          (1776,2.425),(1793,2.38),(1809,2.345),(1824,2.35),(1842,2.375),(1859,2.365),(1875,2.425),
          (1893,2.455),(1907,2.478),(1923,2.455),(1940,2.415),(1956,2.355),(1973,2.275),(1991,2.235),
          (2006,2.21),(2024,2.17),(2039,2.17),(2057,2.19),(2072,2.205),(2088,2.235),(2105,2.268),
          (2120,2.3),(2134,2.27),(2149,2.252),(2164,2.242),(2182,2.232),(2200,2.255),(2215,2.305),
          (2233,2.318),(2248,2.335),(2264,2.33),(2281,2.3),(2296,2.33),(2309,2.4),(2325,2.45),
          (2342,2.48),(2358,2.5),(2375,2.52),(2390,2.43),(2401,2.365),(2417,2.36),(2435,2.325),
          (2452,2.255),(2467,2.17),(2478,2.08),(2496,2.02),(2511,2.16),(2527,2.34),(2544,2.42),
          (2562,2.438),(2577,2.455),(2588,2.29),(2606,2.27),(2621,2.245),(2636,2.185),(2654,2.135),
          (2665,2.08),(2680,2.045),(2698,2.065),(2713,2.2),(2726,2.15),(2737,2.02),(2753,2.095),
          (2768,2.11),(2781,2.29),(2794,2.44),(2808,2.59),(2817,2.69),(2829,2.62),(2840,2.47),
          (2851,2.25),(2864,2.3),(2880,2.325),(2895,2.3),(2910,2.39),(2928,2.415),(2943,2.4),
          (2957,2.25),(2970,2.3),(2983,2.335),(2993,2.48),(2999,2.52)]

j6_cmd = [(0,0.013),(11,-0.008),(26,0.097),(37,0.16),(48,0.286),(57,0.307),(68,0.244),(86,0.231),(101,0.223),
          (112,0.16),(125,0.202),(140,0.244),(151,0.202),(167,0.223),(180,0.181),(195,0.181),(211,0.097),
          (222,-0.05),(235,-0.134),(246,-0.324),(255,-0.429),(266,-0.366),(283,-0.324),(301,-0.282),
          (316,-0.239),(331,-0.218),(349,-0.261),(367,-0.282),(382,-0.261),(393,-0.576),(404,-0.744),
          (415,-0.786),(428,-0.723),(441,-0.66),(454,-0.639),(463,-0.723),(474,-0.786),(487,-0.744),
          (503,-0.618),(520,-0.597),(536,-0.597),(551,-0.576),(564,-0.66),(580,-0.555),(597,-0.492),
          (617,-0.492),(630,-0.345),(645,-0.218),(656,-0.134),(672,-0.197),(689,-0.176),(707,-0.134),
          (722,-0.029),(733,0.055),(744,-0.029),(759,-0.134),(777,-0.176),(792,-0.197),(810,-0.155),
          (828,-0.218),(843,-0.239),(858,-0.176),(876,-0.113),(891,-0.071),(909,-0.008),(924,0.013),
          (942,-0.008),(959,-0.071),(970,-0.113),(981,-0.239),(992,-0.576),(1003,-0.513),(1018,-0.471),
          (1033,-0.492),(1047,-0.618),(1057,-0.681),(1069,-0.576),(1077,-0.071),(1088,0.16),(1099,0.265),
          (1113,0.37),(1128,0.412),(1144,0.37),(1161,0.391),(1179,0.433),(1200,0.412),(1222,0.433),
          (1244,0.454),(1260,0.412),(1275,0.391),(1288,0.37),(1304,0.328),(1319,0.286),(1337,0.286),
          (1354,0.328),(1370,0.37),(1387,0.37),(1403,0.349),(1420,0.412),(1436,0.424),(1457,0.412),
          (1479,0.433),(1495,0.391),(1508,0.37),(1523,0.433),(1539,0.475),(1556,0.412),(1574,0.37),
          (1596,0.37),(1618,0.349),(1633,0.37),(1649,0.307),(1666,0.307),(1681,0.328),(1699,0.307),
          (1714,0.328),(1732,0.349),(1750,0.328),(1765,0.286),(1787,0.265),(1809,0.223),(1824,0.244),
          (1842,0.286),(1864,0.328),(1886,0.349),(1907,0.349),(1925,0.37),(1940,0.349),(1962,0.37),
          (1984,0.37),(2006,0.37),(2028,0.391),(2050,0.349),(2072,0.328),(2094,0.286),(2116,0.265),
          (2138,0.223),(2160,0.181),(2182,0.139),(2200,0.076),(2215,0.013),(2233,-0.05),(2248,-0.071),
          (2264,-0.113),(2276,-0.113),(2287,0.055),(2303,0.139),(2312,0.097),(2320,-0.239),(2329,-0.534),
          (2338,-0.576),(2351,-0.429),(2364,-0.387),(2375,-0.45),(2390,-0.534),(2401,-0.429),
          (2417,-0.45),(2435,-0.45),(2452,-0.387),(2467,-0.239),(2478,-0.429),(2489,-0.534),
          (2500,-0.576),(2511,-0.66),(2527,-0.765),(2540,-0.723),(2555,-0.681),(2571,-0.597),
          (2584,-0.744),(2599,-0.807),(2610,-0.849),(2621,-0.954),(2636,-0.87),(2647,-0.45),
          (2660,-0.492),(2676,-0.513),(2691,-0.471),(2704,-0.197),(2715,-0.029),(2726,-0.071),
          (2737,-0.113),(2753,-0.134),(2768,-0.029),(2781,-0.092),(2794,0.013),(2808,0.076),
          (2819,0.139),(2829,0.349),(2843,0.307),(2856,0.349),(2869,0.433),(2880,0.559),(2891,0.664),
          (2899,0.517),(2910,0.328),(2928,0.349),(2943,0.328),(2957,0.286),(2972,0.37),(2983,0.433),
          (2999,0.538)]
j6_ach = [(0,0.01),(11,0.0),(26,0.08),(37,0.15),(48,0.26),(57,0.3),(68,0.255),(86,0.232),(101,0.222),
          (112,0.17),(125,0.195),(140,0.235),(151,0.21),(167,0.22),(180,0.19),(195,0.18),(211,0.11),
          (222,-0.02),(235,-0.12),(246,-0.29),(255,-0.41),(266,-0.38),(283,-0.33),(301,-0.29),
          (316,-0.245),(331,-0.22),(349,-0.255),(367,-0.28),(382,-0.27),(393,-0.52),(404,-0.72),
          (415,-0.78),(428,-0.74),(441,-0.67),(454,-0.645),(463,-0.71),(474,-0.78),(487,-0.755),
          (503,-0.64),(520,-0.6),(536,-0.598),(551,-0.58),(564,-0.64),(580,-0.57),(597,-0.5),
          (617,-0.492),(630,-0.37),(645,-0.24),(656,-0.15),(672,-0.19),(689,-0.18),(707,-0.14),
          (722,-0.04),(733,0.04),(744,-0.01),(759,-0.12),(777,-0.17),(792,-0.195),(810,-0.16),
          (828,-0.21),(843,-0.235),(858,-0.185),(876,-0.12),(891,-0.08),(909,-0.015),(924,0.01),
          (942,0.0),(959,-0.06),(970,-0.1),(981,-0.2),(992,-0.53),(1003,-0.53),(1018,-0.48),
          (1033,-0.49),(1047,-0.6),(1057,-0.67),(1069,-0.6),(1077,-0.15),(1088,0.12),(1099,0.25),
          (1113,0.36),(1128,0.405),(1144,0.375),(1161,0.39),(1179,0.43),(1200,0.415),(1222,0.43),
          (1244,0.45),(1260,0.415),(1275,0.395),(1288,0.372),(1304,0.335),(1319,0.29),(1337,0.286),
          (1354,0.32),(1370,0.365),(1387,0.37),(1403,0.352),(1420,0.405),(1436,0.422),(1457,0.413),
          (1479,0.43),(1495,0.395),(1508,0.372),(1523,0.425),(1539,0.465),(1556,0.42),(1574,0.375),
          (1596,0.37),(1618,0.352),(1633,0.365),(1649,0.315),(1666,0.307),(1681,0.325),(1699,0.31),
          (1714,0.325),(1732,0.345),(1750,0.33),(1765,0.29),(1787,0.268),(1809,0.228),(1824,0.24),
          (1842,0.28),(1864,0.322),(1886,0.345),(1907,0.349),(1925,0.365),(1940,0.352),(1962,0.367),
          (1984,0.37),(2006,0.37),(2028,0.386),(2050,0.355),(2072,0.33),(2094,0.29),(2116,0.268),
          (2138,0.228),(2160,0.186),(2182,0.145),(2200,0.085),(2215,0.02),(2233,-0.04),(2248,-0.07),
          (2264,-0.11),(2276,-0.115),(2287,0.03),(2303,0.13),(2312,0.11),(2320,-0.19),(2329,-0.5),
          (2338,-0.58),(2351,-0.45),(2364,-0.39),(2375,-0.44),(2390,-0.525),(2401,-0.44),
          (2417,-0.45),(2435,-0.45),(2452,-0.395),(2467,-0.26),(2478,-0.4),(2489,-0.52),
          (2500,-0.57),(2511,-0.65),(2527,-0.76),(2540,-0.73),(2555,-0.685),(2571,-0.61),
          (2584,-0.73),(2599,-0.8),(2610,-0.845),(2621,-0.945),(2636,-0.89),(2647,-0.5),
          (2660,-0.49),(2676,-0.51),(2691,-0.475),(2704,-0.23),(2715,-0.04),(2726,-0.065),
          (2737,-0.11),(2753,-0.13),(2768,-0.04),(2781,-0.085),(2794,0.005),(2808,0.07),
          (2819,0.13),(2829,0.32),(2843,0.31),(2856,0.345),(2869,0.425),(2880,0.545),(2891,0.65),
          (2899,0.54),(2910,0.35),(2928,0.345),(2943,0.33),(2957,0.29),(2972,0.36),(2983,0.425),
          (2999,0.53)]

# gripper: commanded is a step signal (value held from each step on), achieved is a sampled trace
grip_cmd = [(0,0),(175,1),(187,0),(193,1),(238,0),(284,1),(287,0),(296,1),(322,0),(341,1),(350,0),
            (471,1),(476,0),(632,1),(635,0),(696,1),(742,0),(820,1),(827,0),(854,1),(861,0),(874,1),
            (933,0),(1029,1),(1052,0),(1063,1),(1069,0),(1080,1),(1086,0),(1207,1),(1210,0),(1415,1),
            (1458,0),(1485,1),(1488,0),(1490,1),(1493,0),(1497,1),(1509,0),(1982,1),(1985,0),(2003,1),
            (2054,0),(2591,1),(2637,0),(2999,0)]
grip_ach = [(0,0),(172,0),(178,0.1),(186,0.23),(191,0.38),(197,0.5),(203,0.42),(209,0.21),(211,1.0),
            (238,1.0),(240,0.0),(300,0),(305,0.2),(310,0.5),(318,0.98),(321,1.0),(323,0.0),(472,0),
            (476,1.0),(479,1.0),(481,0),(632,0),(633,0.63),(635,0),(703,0),(705,1.0),(742,1.0),(744,0),
            (858,0),(860,0.1),(862,0),(880,0),(887,0.15),(893,0.37),(897,0.3),(905,0.28),(910,0.05),
            (915,0.05),(918,1.0),(934,1.0),(936,0),(1028,0),(1030,0.19),(1045,0.19),(1047,0),(1062,0),
            (1064,0.65),(1066,0),(1083,0),(1085,0.62),(1087,0),(1416,0),(1418,0.27),(1457,0.27),
            (1459,0),(1497,0),(1499,1.0),(1508,1.0),(1510,0),(1985,0),(1995,0.08),(2005,0.3),
            (2015,0.42),(2030,0.5),(2040,0.7),(2045,1.0),(2047,0.8),(2055,0.0),(2591,0),(2593,1.0),
            (2636,1.0),(2638,0),(2999,0)]

joint_cmd = [j0_cmd, j1_cmd, j2_cmd, j3_cmd, j4_cmd, j5_cmd, j6_cmd]
joint_ach = [j0_ach, j1_ach, j2_ach, j3_ach, j4_ach, j5_ach, j6_ach]


def split(pairs):
    return [p[0] for p in pairs], [p[1] for p in pairs]


fig, axes = plt.subplots(8, 1, figsize=(12.1, 14.08), dpi=100, sharex=True)
fig.subplots_adjust(left=0.0636, right=0.986, top=0.9645, bottom=0.0426, hspace=0.17)

for i, ax in enumerate(axes):
    for c in chunk_starts:
        ax.axvline(c, color="#d9d9d9", lw=0.8, zorder=0)
    if i < 7:
        xc, yc = split(joint_cmd[i])
        xa, ya = split(joint_ach[i])
        ax.plot(xc, yc, color="C0", lw=1.3, label="commanded")
        ax.plot(xa, ya, color="C1", lw=1.3, ls="--", label="achieved")
        ax.set_ylabel(JOINT_NAMES[i], fontsize=9)
    else:
        xc, yc = split(grip_cmd)
        xa, ya = split(grip_ach)
        ax.step(xc, yc, where="post", color="C0", lw=1.3, label="commanded")
        ax.plot(xa, ya, color="C1", lw=1.3, ls="--", label="achieved")
        ax.set_ylabel("grip", fontsize=9)
    ax.tick_params(labelsize=8)

axes[0].legend(loc="upper left", ncol=2, fontsize=9)
axes[-1].set_xlabel(XLABEL, fontsize=10)
fig.suptitle(TITLE, fontsize=12, y=0.981)

fig.savefig("out.png", dpi=100)
